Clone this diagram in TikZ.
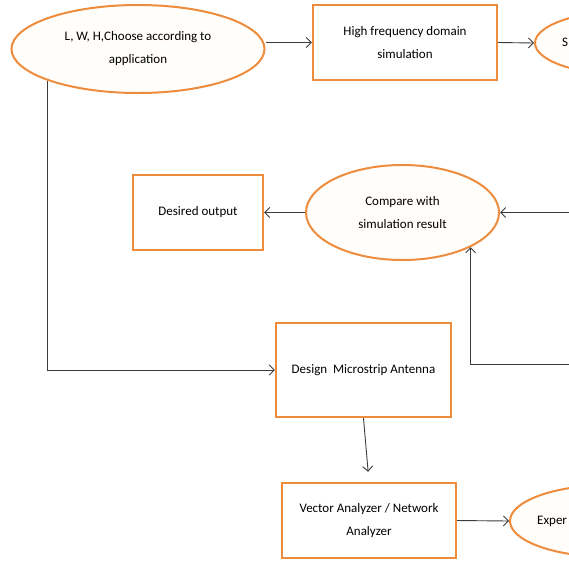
\documentclass[tikz,border=0pt]{standalone}
\usepackage{fontspec}
\setmainfont{Carlito}
\usetikzlibrary{shapes.geometric,arrows.meta}
\definecolor{boxorange}{RGB}{238,140,62}
\definecolor{ovalfill}{RGB}{255,254,250}
\definecolor{linegray}{RGB}{60,60,60}
\begin{document}
\begin{tikzpicture}[x=1pt,y=-1pt,
  box/.style={draw=boxorange, line width=2.4pt, fill=white, align=center, inner sep=0pt,
    font=\fontsize{13}{23}\selectfont},
  oval/.style={ellipse, draw=boxorange, line width=2pt, fill=ovalfill, align=center, inner sep=0pt,
    font=\fontsize{13}{23}\selectfont},
  conn/.style={draw=linegray, line width=0.9pt, -{Straight Barb[length=5pt,width=10pt]}},
  lbl/.style={font=\fontsize{13}{23}\selectfont, inner sep=0pt, anchor=west}]
\useasboundingbox (0,0) rectangle (569,560);
\clip (0,0) rectangle (569,560);
\fill[white] (0,0) rectangle (569,560);

\node[oval, minimum width=253pt, minimum height=88pt] (e1) at (138,49) {L, W, H,Choose according to\\application};
\node[box, minimum width=184pt, minimum height=75pt] (hf) at (405,42.5) {High frequency domain\\simulation};
\node[oval, minimum width=200pt, minimum height=66pt] (sim) at (635,43) {};
\node[lbl] (simt) at (562,42) {S};

\node[box, minimum width=130pt, minimum height=75pt] (des) at (198,212.5) {Desired output};
\node[oval, minimum width=193pt, minimum height=95pt] (cmp) at (402.5,212.5) {Compare with\\simulation result};

\node[box, minimum width=175pt, minimum height=94pt] (dsg) at (363.5,370) {Design~ Microstrip Antenna};
\node[box, minimum width=174pt, minimum height=75pt] (vec) at (369,520.5) {Vector Analyzer / Network\\Analyzer};
\node[oval, minimum width=200pt, minimum height=72pt] (exp) at (610,521) {};
\node[lbl] (expt) at (537,521) {Exper};

\coordinate (rA) at (572,212.5);
\coordinate (rB) at (572,364);

\draw[conn] (e1.east |- hf.west) -- (hf.west);
\draw[conn] (hf.east) -- (sim.west);
\draw[conn] (cmp.west) -- (des.east);
\draw[conn] (rA) -- (cmp.east);
\draw[conn] (rB) -| (cmp.-27);
\draw[conn] (e1.south west) |- (dsg.west);
\draw[conn, shorten >=10pt] (dsg.south) -- (vec.north);
\draw[conn] (vec.east) -- (exp.west);
\end{tikzpicture}
\end{document}
